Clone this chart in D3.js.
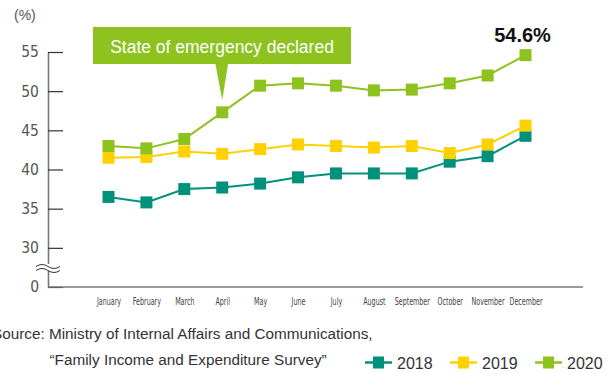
<!DOCTYPE html>
<html>
<head>
<meta charset="utf-8">
<script src="https://cdn.jsdelivr.net/npm/d3@7"></script>
<style>
  body { margin: 0; background: #fff; }
  svg { display: block; }
</style>
</head>
<body>
<div id="chart"></div>
<script>
// data
const months = ["January", "February", "March", "April", "May", "June",
    "July", "August", "September", "October", "November", "December"];
const years = ["2018", "2019", "2020"];
const values2018 = [36.5, 35.8, 37.5, 37.7, 38.2, 39.0, 39.5, 39.5, 39.5, 41.0, 41.7, 44.3];
const values2019 = [41.5, 41.6, 42.3, 42.0, 42.6, 43.2, 43.0, 42.8, 43.0, 42.1, 43.2, 45.6];
const values2020 = [43.0, 42.7, 43.9, 47.3, 50.7, 51.0, 50.7, 50.1, 50.2, 51.0, 52.0, 54.6];
const yTicks = [25, 30, 35, 40, 45, 50, 55];

const colors = { "2018": "#00917b", "2019": "#ffd100", "2020": "#8dc21f" };
const series = [
    { year: "2018", values: values2018 },
    { year: "2019", values: values2019 },
    { year: "2020", values: values2020 }
];

const width = 608, height = 374;
const svg = d3.select("#chart")
    .append("svg")
    .attr("width", width)
    .attr("height", height);

const xScale = d3.scalePoint()
    .domain(months)
    .range([108.5, 525.5]);

const yScale = d3.scaleLinear()
    .domain([25, 55])
    .range([287, 52]);

const numFont = "'Liberation Sans Narrow', 'DejaVu Sans Condensed', sans-serif";
const textFont = "'Liberation Sans', Arial, sans-serif";

// (%) label
svg.append("text")
    .attr("x", 14).attr("y", 20)
    .text("(%)")
    .style("font-family", textFont)
    .style("font-size", "14px")
    .attr("fill", "#555");

// Y axis, ticks pointing inward
const yAxis = svg.append("g")
    .attr("transform", "translate(48,0)")
    .call(d3.axisLeft(yScale)
        .tickValues(yTicks)
        .tickSizeInner(-15)
        .tickSizeOuter(0)
        .tickPadding(9)
        .tickFormat(function (d) { return d === 25 ? "0" : d; }));
yAxis.select(".domain").attr("stroke", "#777").attr("stroke-width", 1.6);
yAxis.selectAll(".tick line").attr("stroke", "#333").attr("stroke-width", 1.2);
yAxis.selectAll(".tick text")
    .attr("fill", "#555")
    .style("font-family", numFont)
    .style("font-size", "15.5px");

// X axis
const xAxis = svg.append("g")
    .attr("transform", "translate(0,287)");
xAxis.append("line")
    .attr("x1", 48).attr("x2", 583)
    .attr("stroke", "#777").attr("stroke-width", 1.6);
xAxis.call(d3.axisBottom(xScale).tickSize(0).tickPadding(18));
xAxis.select(".domain").remove();
const monthLabels = xAxis.selectAll(".tick text")
    .attr("dy", 0)
    .attr("fill", "#444")
    .style("font-family", numFont)
    .style("font-size", "10.5px");

// squeeze the month names to the narrow look of the original
let decWidth = 0;
monthLabels.each(function (d) {
    if (d === "December") decWidth = this.getComputedTextLength();
});
const squeeze = decWidth > 0 ? Math.min(1, 33 / decWidth) : 1;
monthLabels.each(function () {
    const w = this.getComputedTextLength();
    d3.select(this)
        .attr("textLength", w * squeeze)
        .attr("lengthAdjust", "spacingAndGlyphs");
});

// axis break mark
const yBreak = 267.5;
svg.append("rect")
    .attr("x", 38).attr("y", yBreak - 3.5)
    .attr("width", 24).attr("height", 7)
    .attr("fill", "#fff");
[-2, 2].forEach(function (o) {
    svg.append("path")
        .attr("d", "M36," + (yBreak + o + 1) + " q6,-4 12,0 t12,0")
        .attr("fill", "none")
        .attr("stroke", "#333")
        .attr("stroke-width", 1);
});

// lines and markers
const line = d3.line()
    .x(function (d, i) { return xScale(months[i]); })
    .y(function (d) { return yScale(d); });

series.forEach(function (s) {
    svg.append("path")
        .datum(s.values)
        .attr("d", line)
        .attr("fill", "none")
        .attr("stroke", colors[s.year])
        .attr("stroke-width", 2);
    svg.selectAll("rect.m" + s.year)
        .data(s.values)
        .enter()
        .append("rect")
        .attr("class", "m" + s.year)
        .attr("x", function (d, i) { return xScale(months[i]) - 6; })
        .attr("y", function (d) { return yScale(d) - 6; })
        .attr("width", 12)
        .attr("height", 12)
        .attr("fill", colors[s.year]);
});

// callout for April
const ax = xScale("April");
const callout = svg.append("g");
callout.append("rect")
    .attr("x", 93).attr("y", 27)
    .attr("width", 258).attr("height", 37)
    .attr("fill", colors["2020"]);
callout.append("path")
    .attr("d", "M" + (ax - 7) + ",63 L" + (ax + 6) + ",63 L" + ax + ",100 Z")
    .attr("fill", colors["2020"]);
callout.append("text")
    .attr("x", 222).attr("y", 53)
    .attr("text-anchor", "middle")
    .text("State of emergency declared")
    .attr("fill", "#fff")
    .style("font-family", textFont)
    .style("font-size", "17.5px");

// December 2020 label
svg.append("text")
    .attr("x", xScale("December") - 3).attr("y", 42)
    .attr("text-anchor", "middle")
    .text(values2020[11] + "%")
    .attr("fill", "#111")
    .style("font-family", textFont)
    .style("font-weight", "bold")
    .style("font-size", "20px");

// source note
svg.append("text")
    .attr("x", -8).attr("y", 338.5)
    .text("Source: Ministry of Internal Affairs and Communications,")
    .attr("fill", "#333")
    .style("font-family", textFont)
    .style("font-size", "15.3px");
svg.append("text")
    .attr("x", 49.5).attr("y", 365)
    .text("\u201CFamily Income and Expenditure Survey\u201D")
    .attr("fill", "#333")
    .style("font-family", textFont)
    .style("font-size", "15.3px");

// legend
const legendX = [365, 450, 535];
years.forEach(function (y, i) {
    const g = svg.append("g").attr("transform", "translate(" + legendX[i] + ",362.5)");
    g.append("line")
        .attr("x1", 0).attr("x2", 27)
        .attr("stroke", colors[y]).attr("stroke-width", 2.5);
    g.append("rect")
        .attr("x", 8).attr("y", -6)
        .attr("width", 11).attr("height", 12)
        .attr("fill", colors[y]);
    g.append("text")
        .attr("x", 32).attr("y", 6)
        .text(y)
        .attr("fill", "#333")
        .style("font-family", textFont)
        .style("font-size", "16px");
});
</script>
</body>
</html>
